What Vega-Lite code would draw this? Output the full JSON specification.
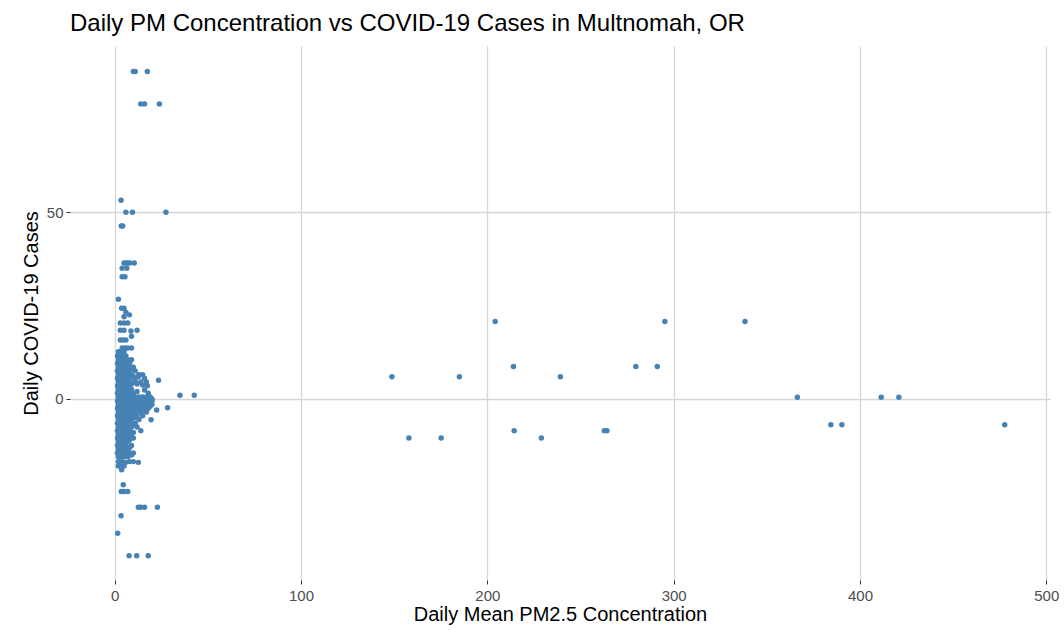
{
  "$schema": "https://vega.github.io/schema/vega-lite/v6.json",
  "autosize": "none",
  "width": 980,
  "height": 534,
  "padding": {"left": 70, "top": 46, "right": 14, "bottom": 50},
  "background": "white",
  "title": {
    "text": "Daily PM Concentration vs COVID-19 Cases in Multnomah, OR",
    "anchor": "start",
    "frame": "group",
    "font": "Liberation Sans",
    "fontSize": 24,
    "fontWeight": "normal",
    "color": "#000000",
    "offset": 10
  },
  "config": {
    "view": {"stroke": null},
    "axis": {
      "labelFont": "Liberation Sans",
      "titleFont": "Liberation Sans",
      "labelFontSize": 15,
      "labelColor": "#4D4D4D",
      "titleFontSize": 20,
      "titleFontWeight": "normal",
      "titleColor": "#000000",
      "domain": false,
      "tickColor": "#333333",
      "tickSize": 4,
      "gridColor": "#D6D6D6",
      "gridWidth": 1.3
    }
  },
  "data": {
    "values": [
      {"x": 10, "y": 87.7}, {"x": 11, "y": 87.7}, {"x": 17.5, "y": 87.7},
      {"x": 14, "y": 79}, {"x": 16, "y": 79}, {"x": 24, "y": 79},
      {"x": 3.4, "y": 53.2}, {"x": 6, "y": 50}, {"x": 9.5, "y": 50}, {"x": 27.5, "y": 50},
      {"x": 3.5, "y": 46.3}, {"x": 4.3, "y": 46.3},
      {"x": 5, "y": 36.4}, {"x": 6, "y": 36.4}, {"x": 7, "y": 36.4}, {"x": 8, "y": 36.4}, {"x": 10.5, "y": 36.4},
      {"x": 4, "y": 35}, {"x": 6.5, "y": 35}, {"x": 4, "y": 32.7}, {"x": 5.5, "y": 32.7},
      {"x": 2, "y": 26.7},
      {"x": 3.7, "y": 24.3}, {"x": 5, "y": 24.3}, {"x": 6, "y": 23.2}, {"x": 5, "y": 22}, {"x": 7.9, "y": 22.5},
      {"x": 3, "y": 20.3}, {"x": 5, "y": 20.3}, {"x": 7, "y": 20.3},
      {"x": 3, "y": 18.4}, {"x": 5, "y": 18.4}, {"x": 8.7, "y": 18.2}, {"x": 12, "y": 18.4}, {"x": 9, "y": 16.8},
      {"x": 3, "y": 15.8}, {"x": 4.5, "y": 15.8}, {"x": 6, "y": 15.8},
      {"x": 4, "y": 13.6}, {"x": 5.5, "y": 13.6}, {"x": 7, "y": 13.6}, {"x": 9, "y": 13.6},
      {"x": 2, "y": 12.6}, {"x": 3, "y": 12.6}, {"x": 5, "y": 12.6},
      {"x": 1.5, "y": 11.5}, {"x": 3, "y": 11.5}, {"x": 4, "y": 11.5}, {"x": 6, "y": 11.5},
      {"x": 2, "y": 10.5}, {"x": 3.5, "y": 10.5}, {"x": 5, "y": 10.5}, {"x": 7, "y": 10.5}, {"x": 9, "y": 10.5},
      {"x": 1.5, "y": 9.5}, {"x": 2.5, "y": 9.5}, {"x": 4, "y": 9.5}, {"x": 6, "y": 9.5}, {"x": 8, "y": 9.5},
      {"x": 2, "y": 8.5}, {"x": 3, "y": 8.5}, {"x": 5, "y": 8.5}, {"x": 7, "y": 8.5}, {"x": 10, "y": 8.5},
      {"x": 1.5, "y": 7.5}, {"x": 3, "y": 7.5}, {"x": 4.5, "y": 7.5}, {"x": 6, "y": 7.5}, {"x": 8, "y": 7.5}, {"x": 11, "y": 7.5},
      {"x": 2, "y": 6.5}, {"x": 3.5, "y": 6.5}, {"x": 5, "y": 6.5}, {"x": 7, "y": 6.5}, {"x": 9, "y": 6.5}, {"x": 13, "y": 6.5}, {"x": 15, "y": 6.5},
      {"x": 1.5, "y": 5.5}, {"x": 2.5, "y": 5.5}, {"x": 4, "y": 5.5}, {"x": 6, "y": 5.5}, {"x": 8, "y": 5.5}, {"x": 12.7, "y": 5.9}, {"x": 16, "y": 5.5},
      {"x": 2, "y": 4.5}, {"x": 3, "y": 4.5}, {"x": 5, "y": 4.5}, {"x": 7, "y": 4.5}, {"x": 10, "y": 4.5}, {"x": 14, "y": 4.5}, {"x": 17, "y": 4.5},
      {"x": 1.5, "y": 3.5}, {"x": 3.5, "y": 3.5}, {"x": 4.5, "y": 3.5}, {"x": 6, "y": 3.5}, {"x": 8, "y": 3.5}, {"x": 15, "y": 3.7}, {"x": 17.5, "y": 3.5},
      {"x": 2, "y": 2.5}, {"x": 3, "y": 2.5}, {"x": 5, "y": 2.5}, {"x": 7, "y": 2.5}, {"x": 9, "y": 2.5}, {"x": 16, "y": 2.4},
      {"x": 1.5, "y": 1.5}, {"x": 2.5, "y": 1.5}, {"x": 4, "y": 1.5}, {"x": 6, "y": 1.5}, {"x": 8, "y": 1.5}, {"x": 10, "y": 1.5}, {"x": 18, "y": 1.5},
      {"x": 2, "y": 0.5}, {"x": 3.5, "y": 0.5}, {"x": 5, "y": 0.5}, {"x": 7, "y": 0.5}, {"x": 9, "y": 0.5}, {"x": 11, "y": 0.5}, {"x": 13, "y": 0.5}, {"x": 15, "y": 0.5}, {"x": 17, "y": 0.5}, {"x": 19, "y": 0.5},
      {"x": 1.5, "y": -0.5}, {"x": 3, "y": -0.5}, {"x": 4.5, "y": -0.5}, {"x": 6, "y": -0.5}, {"x": 8, "y": -0.5}, {"x": 10, "y": -0.5}, {"x": 12, "y": -0.5}, {"x": 14, "y": -0.5}, {"x": 16, "y": -0.5}, {"x": 18, "y": -0.5}, {"x": 20, "y": -0.5},
      {"x": 2, "y": -1.5}, {"x": 3.5, "y": -1.5}, {"x": 5, "y": -1.5}, {"x": 7, "y": -1.5}, {"x": 9, "y": -1.5}, {"x": 11, "y": -1.5}, {"x": 13, "y": -1.5}, {"x": 15, "y": -1.5}, {"x": 17, "y": -1.5}, {"x": 20, "y": -1.5},
      {"x": 1.5, "y": -2.5}, {"x": 3, "y": -2.5}, {"x": 4.5, "y": -2.5}, {"x": 6, "y": -2.5}, {"x": 8, "y": -2.5}, {"x": 10, "y": -2.5}, {"x": 13, "y": -2.5}, {"x": 16, "y": -2.5}, {"x": 18, "y": -2.5}, {"x": 22.5, "y": -3},
      {"x": 2, "y": -3.5}, {"x": 3, "y": -3.5}, {"x": 5, "y": -3.5}, {"x": 7, "y": -3.5}, {"x": 9, "y": -3.5}, {"x": 11, "y": -3.5}, {"x": 14, "y": -3.5}, {"x": 17, "y": -3.5},
      {"x": 1.5, "y": -4.5}, {"x": 3.5, "y": -4.5}, {"x": 4.5, "y": -4.5}, {"x": 6, "y": -4.5}, {"x": 8, "y": -4.5}, {"x": 10, "y": -4.5}, {"x": 12, "y": -4.5}, {"x": 15, "y": -4.5},
      {"x": 2, "y": -5.5}, {"x": 3, "y": -5.5}, {"x": 5, "y": -5.5}, {"x": 7, "y": -5.5}, {"x": 9, "y": -5.5}, {"x": 13, "y": -5.5}, {"x": 19.5, "y": -5.6},
      {"x": 1.5, "y": -6.5}, {"x": 2.5, "y": -6.5}, {"x": 4, "y": -6.5}, {"x": 6, "y": -6.5}, {"x": 8, "y": -6.5}, {"x": 11, "y": -6.5},
      {"x": 2, "y": -7.5}, {"x": 3.5, "y": -7.5}, {"x": 5, "y": -7.5}, {"x": 7, "y": -7.5}, {"x": 9, "y": -7.5}, {"x": 12, "y": -7.5},
      {"x": 1.5, "y": -8.5}, {"x": 3, "y": -8.5}, {"x": 4.5, "y": -8.5}, {"x": 6, "y": -8.5}, {"x": 8, "y": -8.5}, {"x": 14, "y": -8.5},
      {"x": 2, "y": -9.5}, {"x": 3, "y": -9.5}, {"x": 5, "y": -9.5}, {"x": 7, "y": -9.5}, {"x": 9, "y": -9.5},
      {"x": 1.5, "y": -10.5}, {"x": 3.5, "y": -10.5}, {"x": 4.5, "y": -10.5}, {"x": 6, "y": -10.5}, {"x": 8, "y": -10.5}, {"x": 10, "y": -10.5},
      {"x": 2, "y": -11.5}, {"x": 3, "y": -11.5}, {"x": 5, "y": -11.5}, {"x": 7, "y": -11.5},
      {"x": 1.5, "y": -12.5}, {"x": 2.5, "y": -12.5}, {"x": 4, "y": -12.5}, {"x": 6, "y": -12.5}, {"x": 9, "y": -12.5},
      {"x": 2, "y": -13.5}, {"x": 3.5, "y": -13.5}, {"x": 5, "y": -13.5}, {"x": 7, "y": -13.5},
      {"x": 1.5, "y": -14.5}, {"x": 3, "y": -14.5}, {"x": 4.5, "y": -14.5}, {"x": 6, "y": -14.5}, {"x": 8, "y": -14.5}, {"x": 10, "y": -14.5},
      {"x": 2, "y": -15.5}, {"x": 3, "y": -15.5}, {"x": 5, "y": -15.5}, {"x": 7, "y": -15.5},
      {"x": 2, "y": -16.8}, {"x": 4, "y": -16.8}, {"x": 8, "y": -16.8}, {"x": 10, "y": -16.8}, {"x": 12.7, "y": -17},
      {"x": 2, "y": -18}, {"x": 3, "y": -18}, {"x": 5, "y": -18}, {"x": 3.7, "y": -19},
      {"x": 2.5, "y": 12}, {"x": 4.5, "y": 12}, {"x": 2.5, "y": 10}, {"x": 4.5, "y": 10}, {"x": 6, "y": 10},
      {"x": 2.5, "y": 8}, {"x": 4, "y": 8}, {"x": 9, "y": 8}, {"x": 2.5, "y": 6}, {"x": 4.5, "y": 6}, {"x": 10, "y": 6}, {"x": 11, "y": 5},
      {"x": 2.5, "y": 4}, {"x": 4, "y": 4}, {"x": 9, "y": 4}, {"x": 12, "y": 4}, {"x": 2.5, "y": 2}, {"x": 4, "y": 2}, {"x": 6, "y": 2}, {"x": 12, "y": 2},
      {"x": 2.5, "y": 0}, {"x": 4, "y": 0}, {"x": 6, "y": 0}, {"x": 8, "y": 0}, {"x": 10, "y": 0}, {"x": 12, "y": 0}, {"x": 14, "y": 0}, {"x": 16, "y": 0}, {"x": 18, "y": 0}, {"x": 20, "y": 0},
      {"x": 2.5, "y": -1}, {"x": 4, "y": -1}, {"x": 6, "y": -1}, {"x": 8, "y": -1}, {"x": 10, "y": -1}, {"x": 12, "y": -1}, {"x": 14, "y": -1}, {"x": 16, "y": -1}, {"x": 18, "y": -1},
      {"x": 2.5, "y": -2}, {"x": 4, "y": -2}, {"x": 6, "y": -2}, {"x": 8, "y": -2}, {"x": 11, "y": -2}, {"x": 14, "y": -2}, {"x": 19, "y": -2},
      {"x": 2.5, "y": -3}, {"x": 4, "y": -3}, {"x": 6, "y": -3}, {"x": 8, "y": -3}, {"x": 10, "y": -3}, {"x": 12, "y": -3}, {"x": 15, "y": -3},
      {"x": 2.5, "y": -4}, {"x": 4, "y": -4}, {"x": 6, "y": -4}, {"x": 9, "y": -4}, {"x": 11, "y": -5}, {"x": 2.5, "y": -5}, {"x": 4, "y": -5}, {"x": 6, "y": -5},
      {"x": 2.5, "y": -7}, {"x": 4.5, "y": -7}, {"x": 6.5, "y": -7}, {"x": 10, "y": -7}, {"x": 2.5, "y": -9}, {"x": 4, "y": -9}, {"x": 6, "y": -9}, {"x": 10, "y": -9},
      {"x": 2.5, "y": -11}, {"x": 4, "y": -11}, {"x": 6, "y": -11}, {"x": 8, "y": -11}, {"x": 2.5, "y": -13}, {"x": 4.5, "y": -13}, {"x": 8, "y": -13},
      {"x": 2.5, "y": -15}, {"x": 4, "y": -15}, {"x": 6, "y": -15}, {"x": 9, "y": -15}, {"x": 3, "y": -17}, {"x": 6, "y": -17},
      {"x": 4.6, "y": -23}, {"x": 3.5, "y": -24.8}, {"x": 5, "y": -24.8}, {"x": 7, "y": -24.8},
      {"x": 12.7, "y": -29}, {"x": 14, "y": -29}, {"x": 16, "y": -29}, {"x": 22.9, "y": -29},
      {"x": 3.4, "y": -31.3}, {"x": 1.6, "y": -36},
      {"x": 7.7, "y": -42}, {"x": 11.8, "y": -42}, {"x": 18, "y": -42},
      {"x": 23.5, "y": 5}, {"x": 35, "y": 1}, {"x": 42.7, "y": 1}, {"x": 28.4, "y": -2.4},
      {"x": 148.8, "y": 5.9}, {"x": 185, "y": 5.9}, {"x": 204.2, "y": 20.7}, {"x": 214, "y": 8.7},
      {"x": 239.2, "y": 5.9}, {"x": 279.7, "y": 8.7}, {"x": 291.2, "y": 8.7}, {"x": 295.3, "y": 20.7},
      {"x": 157.9, "y": -10.5}, {"x": 175.2, "y": -10.5}, {"x": 214.4, "y": -8.5}, {"x": 229, "y": -10.5},
      {"x": 262.8, "y": -8.5}, {"x": 264.2, "y": -8.5},
      {"x": 338.3, "y": 20.7}, {"x": 366.4, "y": 0.45}, {"x": 384.4, "y": -6.9}, {"x": 390.3, "y": -6.9},
      {"x": 411.4, "y": 0.45}, {"x": 420.9, "y": 0.45}, {"x": 477.7, "y": -6.9}
    ]
  },
  "mark": {"type": "point", "filled": true, "opacity": 1, "size": 30, "color": "#4682B4"},
  "encoding": {
    "x": {
      "field": "x",
      "type": "quantitative",
      "scale": {"domain": [-24, 502], "nice": false, "zero": false},
      "axis": {"values": [0, 100, 200, 300, 400, 500], "title": "Daily Mean PM2.5 Concentration", "labelPadding": 4, "titlePadding": 1}
    },
    "y": {
      "field": "y",
      "type": "quantitative",
      "scale": {"domain": [-48.5, 94.5], "nice": false, "zero": false},
      "axis": {"values": [0, 50], "title": "Daily COVID-19 Cases", "labelPadding": 3, "titlePadding": 5}
    }
  }
}
